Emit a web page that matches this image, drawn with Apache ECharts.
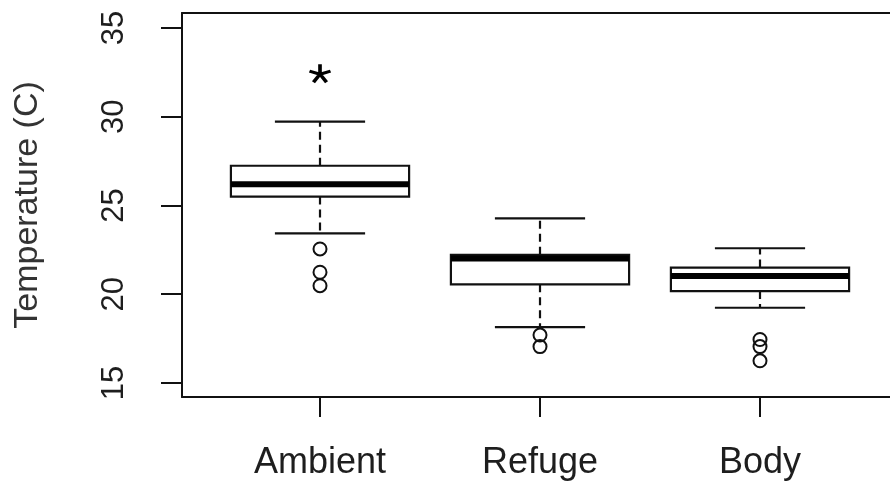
<!DOCTYPE html>
<html lang="en">
<head>
    <meta charset="UTF-8">
    <title>Temperature boxplot</title>
    <script src="https://cdn.jsdelivr.net/npm/echarts@6/dist/echarts.min.js"></script>
    <style>
        html, body { margin: 0; padding: 0; background: #fff; }
        #chart { width: 890px; height: 483px; }
    </style>
</head>
<body>
<div id="chart"></div>
<script>
    // groups and box statistics
    let categories = ['Ambient', 'Refuge', 'Body'];
    let lowWhisker = [23.43, 18.15, 19.24];
    let q1 = [25.50, 20.56, 20.18];
    let median = [26.19, 22.02, 21.03];
    let q3 = [27.24, 22.22, 21.50];
    let highWhisker = [29.72, 24.28, 22.59];
    // outliers as [group position, value]
    let outliers = [
        [1, 22.55], [1, 21.24], [1, 20.48],
        [2, 17.70], [2, 17.05],
        [3, 17.45], [3, 17.05], [3, 16.25]
    ];
    // significance mark above the ambient box
    let starMark = [[1, 32.45]];
    let yTicks = [15, 20, 25, 30, 35];
    let xTicks = [1, 2, 3];

    let boxData = categories.map(function (c, i) {
        return [i + 1, lowWhisker[i], q1[i], median[i], q3[i], highWhisker[i]];
    });

    let ink = '#111';
    let font = "'Liberation Sans', Arial, sans-serif";
    let xMin = 0.3727, xMax = 3.5909;

    function renderBox(params, api) {
        let x = api.value(0);
        let halfBox = api.size([0.405, 0])[0];
        let halfCap = api.size([0.205, 0])[0];
        let pLow = api.coord([x, api.value(1)]);
        let pQ1 = api.coord([x, api.value(2)]);
        let pMed = api.coord([x, api.value(3)]);
        let pQ3 = api.coord([x, api.value(4)]);
        let pHigh = api.coord([x, api.value(5)]);
        let cx = pMed[0];
        let thin = {stroke: ink, lineWidth: 2.2};
        let dashed = {stroke: ink, lineWidth: 2.2, lineDash: [8, 5]};
        return {
            type: 'group',
            children: [
                {type: 'line', shape: {x1: cx, y1: pQ3[1], x2: cx, y2: pHigh[1]}, style: dashed},
                {type: 'line', shape: {x1: cx, y1: pQ1[1], x2: cx, y2: pLow[1]}, style: dashed},
                {type: 'line', shape: {x1: cx - halfCap, y1: pHigh[1], x2: cx + halfCap, y2: pHigh[1]}, style: thin},
                {type: 'line', shape: {x1: cx - halfCap, y1: pLow[1], x2: cx + halfCap, y2: pLow[1]}, style: thin},
                {type: 'rect', shape: {x: cx - halfBox, y: pQ3[1], width: halfBox * 2, height: pQ1[1] - pQ3[1]},
                    style: {fill: '#fff', stroke: ink, lineWidth: 2.2}},
                {type: 'line', shape: {x1: cx - halfBox, y1: pMed[1], x2: cx + halfBox, y2: pMed[1]},
                    style: {stroke: '#000', lineWidth: 6}}
            ]
        };
    }

    let frameLine = {show: true, lineStyle: {color: ink, width: 2}};

    let myChart = echarts.init(document.getElementById('chart'));
    myChart.setOption({
        animation: false,
        backgroundColor: '#fff',
        grid: {left: 182, top: 13, right: 0, height: 384},
        xAxis: [
            {
                type: 'value',
                min: xMin,
                max: xMax,
                axisLine: frameLine,
                splitLine: {show: false},
                axisTick: {show: true, customValues: xTicks, length: 20, lineStyle: {color: ink, width: 2}},
                axisLabel: {
                    customValues: xTicks,
                    formatter: function (v) { return categories[Math.round(v) - 1] || ''; },
                    color: '#1e1e1e', fontFamily: font, fontSize: 36, margin: 48
                }
            },
            {
                type: 'value',
                position: 'top',
                min: xMin,
                max: xMax,
                axisLine: frameLine,
                axisTick: {show: false},
                axisLabel: {show: false},
                splitLine: {show: false}
            }
        ],
        yAxis: {
            type: 'value',
            min: 14.211,
            max: 35.845,
            name: 'Temperature (C)',
            nameLocation: 'middle',
            nameRotate: 90,
            nameGap: 137,
            nameTextStyle: {color: '#333', fontFamily: font, fontSize: 34},
            axisLine: frameLine,
            splitLine: {show: false},
            axisTick: {show: true, customValues: yTicks, length: 21, lineStyle: {color: ink, width: 2}},
            axisLabel: {
                customValues: yTicks,
                rotate: 90,
                color: '#1e1e1e', fontFamily: font, fontSize: 31, margin: 52
            }
        },
        series: [
            {
                type: 'custom',
                renderItem: renderBox,
                data: boxData,
                clip: false,
                z: 2
            },
            {
                type: 'scatter',
                data: outliers,
                symbol: 'circle',
                symbolSize: 13,
                itemStyle: {color: 'transparent', borderColor: ink, borderWidth: 2, opacity: 1},
                z: 3
            },
            {
                type: 'scatter',
                data: starMark,
                symbol: 'path://M0,-10L0,0M0,0L9.5,-3.1M0,0L5.9,8.1M0,0L-5.9,8.1M0,0L-9.5,-3.1',
                symbolSize: [21, 18],
                itemStyle: {color: 'none', borderColor: '#000', borderWidth: 3.4, opacity: 1},
                z: 3
            }
        ]
    });
</script>
</body>
</html>
